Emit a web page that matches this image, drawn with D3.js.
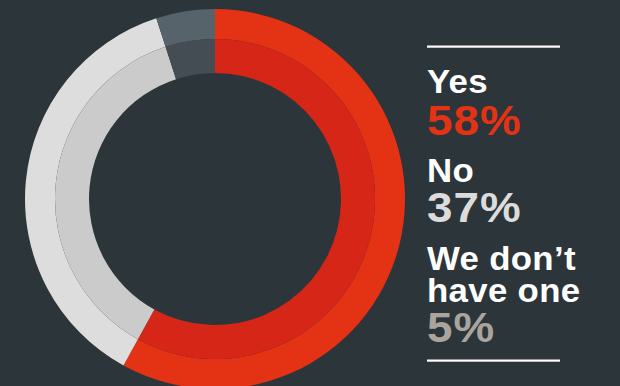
<!DOCTYPE html>
<html>
<head>
<meta charset="utf-8">
<script src="https://cdn.jsdelivr.net/npm/d3@7"></script>
<style>
  html, body { margin: 0; padding: 0; background: #2c353a; }
  svg { display: block; }
  text { font-family: "Liberation Sans", Arial, sans-serif; font-weight: 700; }
</style>
</head>
<body>
<svg id="chart" width="620" height="386"></svg>
<script>
// Survey answers, clockwise from the top
const categories = ["Yes", "No", "We don\u2019t have one"];
const values = [58, 37, 5];
const valueLabels = ["58%", "37%", "5%"];
// Two tones per slice: outer band and inner band
const outerColors = ["#e43214", "#dcdddc", "#56636a"];
const innerColors = ["#d52617", "#cbcbcb", "#434d53"];
const labelColors = ["#e43214", "#dcdcdc", "#aaa49e"];

const svg = d3.select("#chart");
const cx = 215, cy = 199;
const rOuter = 190, rMid = 160, rInner = 126;

const pie = d3.pie().sort(null).value(d => d);
const arcs = pie(values);

const g = svg.append("g").attr("transform", `translate(${cx},${cy})`);

const outerArc = d3.arc().innerRadius(rMid).outerRadius(rOuter);
const innerArc = d3.arc().innerRadius(rInner).outerRadius(rMid);

g.selectAll("path.outer")
  .data(arcs)
  .join("path")
  .attr("class", "outer")
  .attr("d", outerArc)
  .attr("fill", (d, i) => outerColors[i]);

g.selectAll("path.inner")
  .data(arcs)
  .join("path")
  .attr("class", "inner")
  .attr("d", innerArc)
  .attr("fill", (d, i) => innerColors[i]);

// Legend block on the right
const lx = 427, lineW = 133;
const legend = svg.append("g");

legend.append("rect").attr("x", lx).attr("y", 45.5).attr("width", lineW).attr("height", 2.2).attr("fill", "#ffffff");
legend.append("rect").attr("x", lx).attr("y", 359.5).attr("width", lineW).attr("height", 2.2).attr("fill", "#ffffff");

// Headline type is a touch wider than the stock sans, so stretch it horizontally
const nameSize = 33, valueSize = 42;
const nameStretch = 1.055, valueStretch = 1.09;
const blocks = [
  { lines: [categories[0]], nameBase: [93.3], valueBase: 134.5 },
  { lines: [categories[1]], nameBase: [181.7], valueBase: 222 },
  { lines: ["We don\u2019t", "have one"], nameBase: [269.5, 302], valueBase: 342 }
];

blocks.forEach((b, i) => {
  b.lines.forEach((t, j) => {
    legend.append("text")
      .attr("transform", `translate(${lx},${b.nameBase[j]}) scale(${nameStretch},1)`)
      .attr("fill", "#ffffff")
      .attr("font-size", nameSize)
      .attr("letter-spacing", 0.3)
      .text(t);
  });
  legend.append("text")
    .attr("transform", `translate(${lx},${b.valueBase}) scale(${valueStretch},1)`)
    .attr("fill", labelColors[i])
    .attr("font-size", valueSize)
    .attr("letter-spacing", 1)
    .text(valueLabels[i]);
});
</script>
</body>
</html>
